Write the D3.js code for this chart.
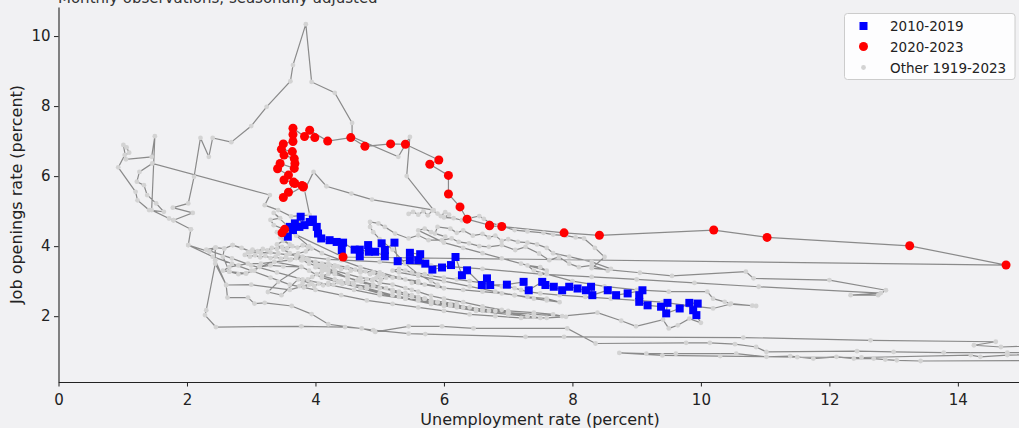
<!DOCTYPE html>
<html>
<head>
<meta charset="utf-8">
<script src="https://cdn.jsdelivr.net/npm/d3@7"></script>
<style>
  body { margin: 0; background: #f1f1f3; }
  svg { display: block; }
  text { font-family: "DejaVu Sans", sans-serif; }
</style>
</head>
<body>
<svg id="chart" width="1019" height="428"></svg>
<script>
// Axis ticks and legend labels
const xTicks = [0, 2, 4, 6, 8, 10, 12, 14];
const yTicks = [2, 4, 6, 8, 10];
const legendLabels = ["2010-2019", "2020-2023", "Other 1919-2023"];

// [unemployment rate, job openings rate], monthly, in time order
const otherA = [
  [5.45,4.92],[5.52,4.98],[5.6,4.9],[5.68,5.0],[5.75,4.88],[5.82,5.02],[5.9,4.93],[5.95,4.86],[6.02,4.97],[6.08,4.9],
  [6.0,4.82],[6.15,4.8],[6.28,4.74],[6.4,4.8],[6.55,4.86],[6.62,4.78],[6.7,4.68],[6.85,4.6],[7.1,4.46],[7.3,4.42],
  [7.55,4.38],[7.7,4.33],[7.9,4.3],[8.05,4.25],[8.18,4.22],[8.35,3.95],[8.5,3.69],[8.3,3.37],[9.05,3.24],[9.55,3.15],
  [10.7,3.27],[10.82,3.08],[12.0,3.03],[12.88,2.74],[12.76,2.6],[12.33,2.6],[12.8,2.66],[10.9,2.84],[9.9,2.95],[9.0,3.05],
  [8.3,3.12],[7.5,3.2],[6.6,3.35],[5.8,3.45],[5.0,3.55],[4.2,3.62],[3.42,3.79],[3.0,3.84],[2.71,4.03],[2.58,3.93],
  [2.56,3.7],[2.66,3.27],[2.92,3.22],[3.13,3.41],[3.36,3.55],[3.78,3.41],[3.42,2.98],[3.26,2.69],[3.47,2.6],[3.73,3.05],
  [3.94,2.93],[3.6,2.75],[3.0,2.9],[2.61,2.89],[2.44,3.5],[2.30,2.17],[2.28,2.03],[2.45,1.69]
];
const otherB = [
  [3.78,1.71],[4.46,1.69],[4.72,1.65],[4.93,1.55],[5.45,1.71],[5.97,1.71],[6.46,1.65],[7.92,1.65],[8.36,1.22],[9.77,1.24],
  [10.14,1.24],[10.53,1.2],[10.86,1.12],[11.02,0.98],[12.43,1.0],[13.0,0.98],[13.78,0.96],[14.77,0.96],[18,0.95],[22,0.9],
  [25,0.85],[21,0.78],[17,0.75],[13.42,0.72],[13.05,0.74],[12.87,0.76],[12.69,0.79],[12.38,0.79],[12.11,0.84],[11.75,0.79],
  [11.39,0.86],[11.02,0.84],[10.55,0.93],[9.61,0.93],[9.15,0.93],[8.73,0.95],[9.4,0.88],[10.3,0.86],[11.5,0.83],[12.5,0.82],
  [14.2,0.89],[14.35,0.84],[14.77,0.89],[17,0.95],[19.5,1.0],[16,1.2],[14.67,1.12],[14.25,1.17],[14.59,1.27],[12.64,1.31],
  [10.66,1.39],[7.87,1.41],[7.27,1.41],[5.71,1.49],[5.45,1.5]
];
const otherC = [
  [4.9,1.6],[4.2,1.77],[3.94,2.06],[3.63,2.29],[3.21,2.38],[3.05,2.36],[2.95,2.53],[2.63,2.53],[2.61,2.89],[2.44,3.6],
  [2.44,3.96],[2.35,3.84],[2.02,4.03],[2.06,4.48],[1.79,4.74],[2.09,4.95],[1.78,5.1],[2.02,5.22],[2.11,5.98],[2.21,7.09],
  [2.34,6.55],[2.40,7.09],[2.69,6.97],[3.0,7.43],[3.24,7.98],[3.61,8.71],[3.65,9.17],[3.85,10.34],[3.94,8.69],[4.30,8.38],
  [4.57,7.52],[4.57,7.12],[5.29,6.55],[5.47,7.12],[5.42,6.0],[5.84,5.03],[4.88,5.33],[4.56,5.5],[4.17,5.71],[3.97,6.12],
  [3.83,5.6],[3.91,4.89],[3.62,4.85],[3.42,5.03],[3.21,5.17],[3.29,5.46],[1.46,6.36],[1.26,6.12],[1.22,5.84],[1.33,5.74],
  [1.38,5.46],[1.52,5.22],[1.64,4.98],[1.41,5.03],[1.23,5.31],[1.20,5.55],[0.93,6.25],[1.03,6.6],[1.10,6.67],[1.06,6.82],
  [1.01,6.89],[1.05,6.48],[1.45,6.55],[1.50,7.14],[1.45,5.03],[1.72,4.79],[1.79,4.74],[2.06,4.48],[2.02,4.03],
  [2.4,3.7],[2.7,3.5],[3.0,3.3],[3.3,3.1],[3.6,2.9],[4.0,2.75],[4.4,2.6],[4.8,2.45],[5.2,2.35],[5.6,2.25],
  [6.0,2.15],[6.4,2.05],[6.8,2.0],[7.2,1.95],[7.6,1.95],[7.9,1.98],[7.7,2.05],[7.4,2.1],[7.0,2.15],[6.6,2.2],
  [6.2,2.3],[5.8,2.4],[5.4,2.5],[5.0,2.6],[4.6,2.75],[4.2,2.9],[3.8,3.05],[3.4,3.25],[3.0,3.45],[2.7,3.65]
];
const otherD = [
  [2.3,3.9],[2.45,3.96],[2.58,3.93],[2.71,4.03],[2.85,3.95],[3.0,3.84],[3.15,3.8],[3.3,3.82],[3.42,3.79],[3.55,3.75],
  [3.73,3.79],[3.85,3.85],[3.94,3.93],[3.88,3.98],[3.8,4.02],[3.72,3.96],[3.64,4.0],[3.56,3.94],[3.48,3.98],[3.4,3.92],
  [3.32,3.95],[3.25,3.88],[3.18,3.92],[3.1,3.86],[3.02,3.9],[2.95,3.82],[2.9,3.75],[2.98,3.7],[3.06,3.74],[3.14,3.68],
  [3.22,3.72],[3.3,3.66],[3.38,3.7],[3.46,3.64],[3.54,3.68],[3.62,3.62],[3.7,3.66],[3.78,3.6],[3.86,3.64],[3.8,3.7],
  [3.6,3.6],[3.36,3.55],[3.15,3.5],[2.95,3.5],[2.8,3.45],[2.66,3.4],
  [2.56,3.3],[2.66,3.27],[2.8,3.2],[2.92,3.22],[3.05,3.3],[3.13,3.41],[3.3,3.45],[3.5,3.42],[3.78,3.41],[3.9,3.3],
  [4.1,3.1],[4.4,2.95],[4.7,2.8],[5.0,2.65],[5.3,2.55],[5.6,2.45],[5.8,2.35],[6.0,2.3],[5.9,2.4],[5.7,2.5],
  [5.5,2.6],[5.3,2.7],[5.1,2.8],[4.9,2.9],[4.7,3.0],[4.5,3.1],[4.3,3.2],[4.2,3.3],[4.1,3.35],[4.0,3.4],
  [4.15,3.32],[4.3,3.28],[4.2,3.2],[4.1,3.15],[4.3,3.05],[4.5,2.95],[4.8,2.8],[5.2,2.6],[5.6,2.45],[6.0,2.3],
  [6.5,2.15],[7.0,2.05],[7.4,1.98],[7.5,1.95],[7.3,2.0],[7.0,2.1],[6.7,2.15],[6.4,2.25],[6.1,2.35],[5.8,2.45],
  [5.5,2.55],[5.3,2.65],[5.2,2.7],[5.4,2.6],[5.6,2.5],[5.8,2.42],[6.1,2.3],[6.5,2.2],[6.8,2.15],[7.0,2.1],
  [6.9,2.18],[6.6,2.28],[6.3,2.4],[6.0,2.5],[5.8,2.58],[5.6,2.7],[5.5,2.75],[5.4,2.8],[5.2,2.9],[5.0,2.95],
  [4.9,3.05],[4.7,3.1],[4.5,3.2],[4.3,3.3],[4.1,3.4],[3.9,3.5],[3.8,3.6],[3.7,3.7],[3.6,3.8],[3.5,3.9],
  [3.4,4.05],[3.5,4.15],[3.6,4.05],[3.45,4.25],[3.4,4.4],[3.55,4.45],[3.35,4.6],[3.3,4.75],[3.45,4.8],[3.35,4.95],
  [3.55,4.6],[3.7,4.3],[3.9,4.0],[4.1,3.8],[4.4,3.6],[4.7,3.4],[5.0,3.25],[5.3,3.1],[5.6,2.95],[5.9,2.85],
  [6.0,2.8],[5.9,2.9],[5.8,3.0],[5.6,3.2],[5.4,3.5],[5.2,3.9],[5.0,4.2],[4.9,4.4],[4.85,4.55],[4.85,4.69],
  [4.98,4.65],[5.08,4.55],[5.24,4.36],[5.45,4.22],[5.6,4.31],[5.76,4.17],[5.97,4.17],[6.12,4.22],[6.23,4.12],[6.39,4.08],
  [6.55,4.0],[6.7,3.98],[6.9,4.03],[7.11,3.89],[7.27,3.98],[7.48,3.79],[7.64,3.6],[7.79,3.69],[7.95,3.5],[8.1,3.4],
  [8.3,3.45],[8.55,3.3],[8.6,3.35],[8.3,3.55],[7.95,3.7],[7.7,3.8],[7.6,3.95],[7.45,4.05],[7.3,4.1],[7.15,4.12],
  [7.0,4.2],[6.9,4.15],[6.8,4.3],[6.7,4.25],[6.6,4.35],[6.45,4.3],[6.3,4.45],[6.2,4.38],[6.1,4.5],[5.9,4.55],
  [5.86,4.36],[6.02,4.27],[5.8,4.4],[5.7,4.5],[5.6,4.45],[6.0,4.1],[6.3,3.95],[6.6,3.8],[6.9,3.65],[7.2,3.5],
  [7.6,3.3],[7.5,3.4],[7.3,3.45],[7.4,3.3],[7.6,3.2],[8.0,3.0],[8.5,2.85],[9.0,2.75],[9.5,2.7],[10.1,2.7],
  [10.19,2.5],[10.37,2.41],[10.47,2.36],[10.86,2.29],[10.8,2.3],[10.45,2.34],[10.19,2.22],[9.8,2.3],[9.4,2.4],[9.0,2.45],
  [8.6,2.5],[8.2,2.55],[7.8,2.6],[7.5,2.65],[7.3,2.7],[7.2,2.75],[7.1,2.8],[7.0,2.85],[6.9,2.85],[6.7,2.9],
  [6.6,2.95],[6.4,3.0],[6.2,3.05],[6.0,3.1],[5.8,3.15],[5.7,3.2],[5.5,3.25],[5.4,3.3],[5.3,3.35],[5.2,3.3],
  [5.3,3.25],[5.6,3.15],[6.0,3.0],[6.4,2.85],[6.8,2.7],[7.1,2.6],[7.4,2.5],[7.6,2.45],[7.8,2.4],[7.6,2.5],
  [7.3,2.55],[7.1,2.6],[6.9,2.65],[6.6,2.7],[6.3,2.75],[6.0,2.8],[5.7,2.9],[5.5,2.95],[5.6,3.0],[5.4,3.05],
  [5.2,3.1],[5.0,3.2],[4.9,3.25],[4.7,3.3],[4.5,3.4],[4.3,3.45],[4.2,3.5],[4.0,3.55],[3.9,3.6],[4.0,3.5],
  [4.05,3.45],[4.1,3.5],[4.15,3.42],[4.22,3.46],[4.28,3.38],[4.35,3.42],[4.4,3.35],[4.48,3.38],[4.55,3.3],[4.62,3.33],
  [4.7,3.25],[4.78,3.28],[4.85,3.2],[4.9,3.24],[4.98,3.15],[5.05,3.18],[5.1,3.1],[5.02,3.05],[4.95,3.1],[4.88,3.02],
  [4.8,3.06],[4.72,2.98],[4.65,3.02],[4.58,2.95],[4.5,3.0],[4.42,2.92],[4.35,2.97],[4.28,2.9],[4.2,2.95],[4.12,2.88],
  [4.05,2.93],[3.98,2.86],[3.9,2.9],[3.82,2.82],[3.75,2.86],[3.8,2.95],[3.88,3.05],[3.95,3.12],[4.02,3.2],[4.1,3.27],
  [4.2,3.35],[4.5,3.1],[4.9,2.85],[5.4,2.65],[5.7,2.5],[5.9,2.4],[6.1,2.3],[6.3,2.25],[6.2,2.35],[6.0,2.4],
  [5.8,2.45],[5.6,2.55],[5.4,2.65],[5.2,2.75],[5.0,2.8],[4.8,2.85],[4.6,2.9],[4.5,2.95],[4.4,3.0],[4.6,2.9],
  [4.8,2.8],[5.0,2.65],[5.4,2.5],[5.8,2.35],[6.2,2.25],[6.6,2.15],[7.0,2.1],[7.4,2.05],[7.84,2.0],[8.39,2.1],
  [8.76,1.87],[8.99,1.71],[9.41,1.9],[9.5,1.65],[9.64,1.74],[9.82,1.93],[10.0,1.81]
];

const decade2010s = [
  [9.93,2.03],[9.88,2.17],[9.95,2.36],[9.82,2.38],[9.67,2.22],[9.46,2.08],[9.48,2.38],[9.38,2.27],[9.17,2.31],[9.04,2.41],
  [9.04,2.6],[9.09,2.74],[8.86,2.65],[8.68,2.6],[8.55,2.74],[8.31,2.6],[8.29,2.84],[8.21,2.74],[8.08,2.79],[7.95,2.84],
  [7.84,2.74],[7.71,2.84],[7.58,2.89],[7.53,2.98],[7.32,2.74],[7.24,2.98],[6.98,2.90],[6.72,2.89],[6.67,3.08],[6.59,2.89],
  [6.36,3.31],[6.28,3.17],[6.18,3.69],[6.11,3.46],[5.97,3.39],[5.82,3.33],[5.71,3.5],[5.63,3.77],[5.47,3.81],[5.60,3.6],
  [5.47,3.6],[5.28,3.57],[5.23,4.10],[5.08,3.89],[5.03,4.08],[5.08,3.71],[4.93,3.84],[4.82,4.03],[4.83,3.84],[4.69,3.90],
  [4.69,3.71],[4.61,3.90],[4.43,4.10],[4.41,3.89],[4.33,4.12],[4.22,4.17],[4.09,4.22],[4.04,4.36],[4.02,4.55],[3.96,4.76],
  [3.91,4.69],[3.83,4.6],[3.77,4.84],[3.75,4.55],[3.68,4.65],[3.65,4.46],[3.57,4.27],[3.60,4.55]
];

const years2020to2023 = [
  [3.48,4.38],[3.52,4.48],[4.43,3.69],[14.75,3.46],[13.25,4.01],[11.03,4.25],[10.2,4.46],[8.42,4.31],[7.87,4.38],[6.9,4.56],
  [6.71,4.58],[6.71,4.6],[6.36,4.77],[6.25,5.12],[6.07,5.49],[6.07,6.02],[5.78,6.34],[5.92,6.46],[5.4,6.91],[5.17,6.92],
  [4.77,6.85],[4.55,7.10],[4.19,7.0],[3.91,7.31],[3.99,7.1],[3.83,7.13],[3.65,7.37],[3.65,7.19],[3.65,6.99],[3.5,6.92],
  [3.47,6.77],[3.64,6.70],[3.51,6.60],[3.67,6.50],[3.68,6.36],[3.67,6.22],[3.45,6.36],[3.41,6.21],[3.58,6.03],[3.51,5.89],
  [3.66,5.81],[3.58,5.54],[3.5,5.39],[3.81,5.71],[3.79,5.73],[3.81,5.69],[3.66,5.83],[3.68,5.79]
];

const otherAll = [...otherA, ...otherB, ...otherC, ...otherD];
const fullPath = [...otherAll, ...decade2010s, ...years2020to2023];

const svg = d3.select("#chart");
const x = d3.scaleLinear().domain([0, 15]).range([58.5, 1022.1]);
const y = d3.scaleLinear().domain([0.12, 10.83]).range([382, 7]);

// Title (partly above the frame)
svg.append("text").attr("x", 58).attr("y", 2.5)
  .attr("font-size", 15).attr("fill", "#333")
  .text("Monthly observations, seasonally adjusted");

svg.append("clipPath").attr("id", "plot-clip")
  .append("rect").attr("x", 58.5).attr("y", 0).attr("width", 1019 - 58.5).attr("height", 382);

const plot = svg.append("g").attr("clip-path", "url(#plot-clip)");

plot.append("path")
  .datum(fullPath)
  .attr("fill", "none")
  .attr("stroke", "#8a8a8a")
  .attr("stroke-width", 1.2)
  .attr("d", d3.line().x(d => x(d[0])).y(d => y(d[1])));

plot.append("g").selectAll("circle").data(otherAll).join("circle")
  .attr("cx", d => x(d[0])).attr("cy", d => y(d[1])).attr("r", 2.4)
  .attr("fill", "#d3d3d3");

plot.append("g").selectAll("rect").data(decade2010s).join("rect")
  .attr("x", d => x(d[0]) - 4).attr("y", d => y(d[1]) - 4)
  .attr("width", 8).attr("height", 8).attr("fill", "#0000ff");

plot.append("g").selectAll("circle").data(years2020to2023).join("circle")
  .attr("cx", d => x(d[0])).attr("cy", d => y(d[1])).attr("r", 4.5)
  .attr("fill", "#ff0000");

// Axes
const xAxis = svg.append("g").attr("transform", "translate(0,382)")
  .call(d3.axisBottom(x).tickValues(xTicks).tickFormat(d3.format("d")).tickSize(4.5).tickSizeOuter(0).tickPadding(8));
const yAxis = svg.append("g").attr("transform", "translate(58.5,0)")
  .call(d3.axisLeft(y).tickValues(yTicks).tickFormat(d3.format("d")).tickSize(4.5).tickSizeOuter(0).tickPadding(3.5));
[xAxis, yAxis].forEach(a => {
  a.selectAll("text").attr("font-size", 15).attr("fill", "#222").attr("font-family", "DejaVu Sans");
  a.selectAll("line").attr("stroke", "#222");
  a.select(".domain").attr("stroke", "#222").attr("stroke-width", 1.1);
});

svg.append("text").attr("x", 540).attr("y", 425).attr("text-anchor", "middle")
  .attr("font-size", 16).attr("fill", "#222").text("Unemployment rate (percent)");
svg.append("text").attr("transform", "translate(21.5,194.5) rotate(-90)").attr("text-anchor", "middle")
  .attr("font-size", 16).attr("fill", "#222").text("Job openings rate (percent)");

// Legend
const lg = svg.append("g");
lg.append("rect").attr("x", 844.5).attr("y", 13.5).attr("width", 170.5).attr("height", 66)
  .attr("rx", 3).attr("fill", "#ffffff").attr("fill-opacity", 0.85).attr("stroke", "#cccccc");
const rowY = [26, 46.5, 67.5];
lg.append("rect").attr("x", 859.5).attr("y", rowY[0] - 4).attr("width", 8).attr("height", 8).attr("fill", "#0000ff");
lg.append("circle").attr("cx", 863.5).attr("cy", rowY[1]).attr("r", 4.5).attr("fill", "#ff0000");
lg.append("circle").attr("cx", 863.5).attr("cy", rowY[2]).attr("r", 2.4).attr("fill", "#d3d3d3");
lg.selectAll("text.lab").data(legendLabels).join("text").attr("class", "lab")
  .attr("x", 890).attr("y", (d, i) => rowY[i] + 5).attr("font-size", 13.5).attr("fill", "#222")
  .text(d => d);
</script>
</body>
</html>
